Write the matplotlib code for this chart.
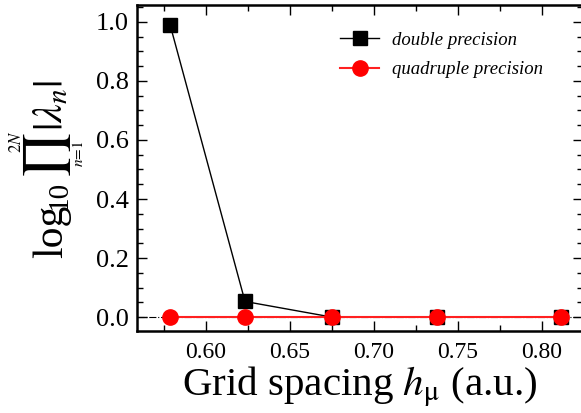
import matplotlib
matplotlib.use("Agg")
import matplotlib.pyplot as plt
from matplotlib.ticker import MultipleLocator

# values
h_mu = [0.5786, 0.6232, 0.675, 0.7375, 0.8113]
double_prec = [0.99, 0.053, 0.0, 0.0, 0.0]
quad_prec = [0.0, 0.0, 0.0, 0.0, 0.0]

plt.rcParams['font.family'] = 'Liberation Serif'
plt.rcParams['mathtext.fontset'] = 'stix'

W, H = 581, 413
fig = plt.figure(figsize=(W / 100, H / 100), dpi=100)
ax = fig.add_axes([137 / W, 1 - 331 / H, (583 - 137) / W, (331 - 5) / H])

ax.axhline(0, color='k', ls='-.', lw=0.8, zorder=1)
ax.plot(h_mu, double_prec, color='k', lw=1.0, marker='s', markersize=10,
        label='double precision', zorder=2)
ax.plot(h_mu, quad_prec, color='#ff2020', lw=1.5, marker='o', markersize=11,
        markerfacecolor='red', markeredgecolor='red',
        label='quadruple precision', zorder=3)

ax.set_xlim(0.5589, 0.8244)
ax.set_ylim(-0.047, 1.057)
ax.xaxis.set_major_locator(MultipleLocator(0.05))
ax.xaxis.set_minor_locator(MultipleLocator(0.025))
ax.yaxis.set_major_locator(MultipleLocator(0.2))
ax.yaxis.set_minor_locator(MultipleLocator(0.05))
ax.xaxis.set_major_formatter(plt.FormatStrFormatter('%.2f'))
ax.yaxis.set_major_formatter(plt.FormatStrFormatter('%.1f'))

ax.tick_params(which='both', direction='in', top=True, right=True, width=1)
ax.tick_params(which='major', length=7)
ax.tick_params(which='minor', length=4)
ax.tick_params(axis='x', labelsize=17, pad=8)
ax.tick_params(axis='y', labelsize=19, pad=6)
for s in ax.spines.values():
    s.set_linewidth(1.8)

ax.set_xlabel(r'Grid spacing $h_\mathrm{\mu}$ (a.u.)', fontsize=29.5, labelpad=1)


# y label built from pieces so the product limits sit over/under the symbol
def ytxt(x, y, s, size, **kw):
    fig.text(x / W, 1 - y / H, s, fontsize=size, rotation=90,
             rotation_mode='anchor', **kw)


ytxt(62, 258, 'log', 30, ha='left', va='baseline')
ytxt(66, 210, '10', 21, ha='left', va='baseline')
ytxt(59, 155, r'$\prod$', 33, ha='center', va='baseline')
ytxt(21, 142, r'$2N$', 12, ha='center', va='baseline')
ytxt(83, 154, r'$n\!=\!1$', 11, ha='center', va='baseline')
ytxt(62, 131, r'$|\lambda_n|$', 30, ha='left', va='baseline')

leg = ax.legend(loc='upper left', frameon=False, prop={'style': 'italic', 'size': 13.5},
                handlelength=2.1, handletextpad=0.7, labelspacing=0.65,
                borderaxespad=0, borderpad=0, bbox_to_anchor=(0.455, 0.918))

fig.savefig('out.png', dpi=100)
